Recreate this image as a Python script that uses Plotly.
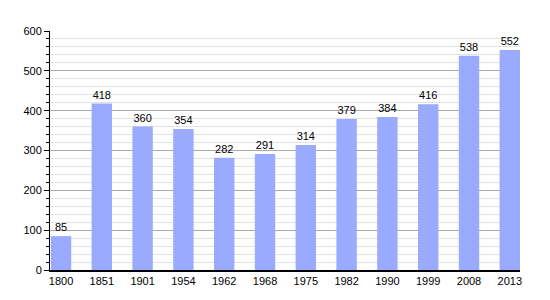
import plotly.graph_objects as go

years = ["1800", "1851", "1901", "1954", "1962", "1968", "1975", "1982", "1990", "1999", "2008", "2013"]
population = [85, 418, 360, 354, 282, 291, 314, 379, 384, 416, 538, 552]

fig = go.Figure()
fig.add_trace(go.Bar(
    x=years, y=population,
    width=0.5,
    marker=dict(color="#99aaff", line=dict(width=0)),
    text=[str(v) for v in population],
    textposition="outside",
    textfont=dict(family="Liberation Sans, Arial", size=11, color="#000"),
    cliponaxis=False,
))

fig.update_layout(
    width=550, height=300,
    margin=dict(l=50, r=30, t=31, b=30),
    paper_bgcolor="white", plot_bgcolor="white",
    showlegend=False,
    font=dict(family="Liberation Sans, Arial", size=11, color="#000"),
    bargap=0.5,
)
fig.update_xaxes(
    type="category",
    range=[-0.27, 11.25],
    showline=True, linecolor="black", linewidth=1.5,
    ticks="", showgrid=False,
    tickfont=dict(size=11),
)
fig.update_yaxes(
    range=[0, 600],
    tickvals=[0, 100, 200, 300, 400, 500, 600],
    showline=True, linecolor="black", linewidth=1,
    ticks="outside", ticklen=5, tickcolor="black",
    showgrid=True, gridcolor="#aaaaaa", gridwidth=1,
    minor=dict(dtick=20, showgrid=True, gridcolor="#e2e2e2", gridwidth=1,
               ticks="outside", ticklen=3, tickcolor="black"),
    zeroline=False,
    tickfont=dict(size=11),
)

fig.write_html("out.html")
